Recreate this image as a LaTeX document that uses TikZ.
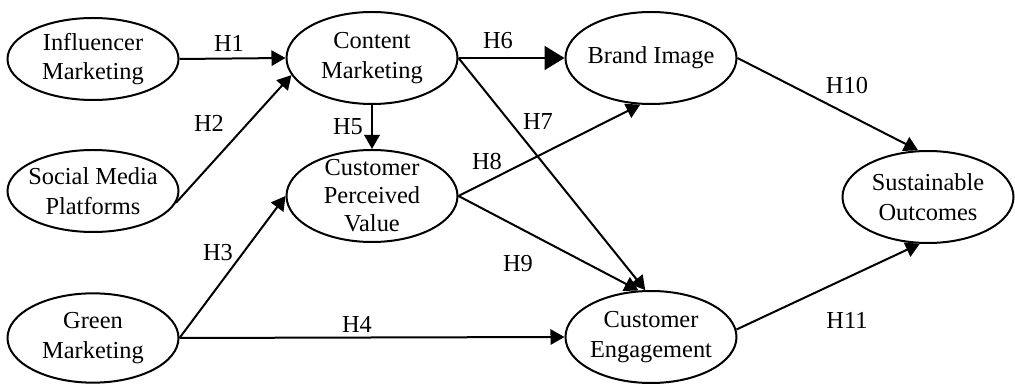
\documentclass[tikz,border=0pt]{standalone}
\usepackage{fontspec}
\setmainfont{Liberation Serif}
\usetikzlibrary{shapes.geometric,arrows.meta}
\begin{document}
\begin{tikzpicture}[x=0.75pt,y=-0.75pt,
  font=\fontsize{18.3pt}{22pt}\selectfont,
  construct/.style={draw, ellipse, line width=1.5pt, inner sep=0pt,
    minimum width=128.25pt, minimum height=69pt},
  short/.style={minimum height=61.5pt},
  mid/.style={minimum height=67pt},
  caption/.style={align=center},
  hyp/.style={inner sep=0pt},
  link/.style={line width=1.5pt, -{Triangle[length=10.5pt,width=11.5pt]}},
  biglink/.style={line width=1.5pt, -{Triangle[length=15pt,width=18pt]}}
]
\useasboundingbox (0,0) rectangle (1015,384);

% constructs
\node[construct, short, label={[caption]center:Influencer\\Marketing}] (inf) at (93,59) {};
\node[construct, short, label={[caption]center:Social Media\\Platforms}] (soc) at (93,191) {};
\node[construct, mid, label={[caption]center:Green\\Marketing}] (grn) at (93,338) {};
\node[construct, label={[caption]center:Content\\Marketing}] (cm) at (372,58) {};
\node[construct, label={[caption, font=\fontsize{18.3pt}{21pt}\selectfont]center:Customer\\Perceived\\Value}] (cpv) at (372,196) {};
\node[construct, label={[caption]center:Brand Image}] (bi) at (651,58) {};
\node[construct, label={[caption]center:Customer\\Engagement}] (ce) at (651,337) {};
\node[construct, label={[caption]center:Sustainable\\Outcomes}] (sus) at (928,197) {};

% hypothesised paths
\draw[link] (inf.east) -- (cm.west);
\draw[link] (soc.-8) -- (cm.192);
\draw[link] (grn.east) -- (cpv.west);
\draw[link] (grn.east) -- (ce.west);
\draw[link] (cm.south) -- (cpv.north);
\draw[biglink] (cm.east) -- (bi.west);
\draw[link] (cm.east) -- (ce.97);
\draw[link] (cpv.east) -- (bi.257);
\draw[link] (cpv.east) -- (ce.105);
\draw[link] (bi.east) -- (sus.102);
\draw[link] (ce.5) -- (sus.260);

% path labels
\node[hyp] (h1) at (229,43) {H1};
\node[hyp] (h2) at (209,123) {H2};
\node[hyp] (h3) at (218,253) {H3};
\node[hyp] (h4) at (357,324) {H4};
\node[hyp] (h5) at (348,127) {H5};
\node[hyp] (h6) at (498,41) {H6};
\node[hyp] (h7) at (538,122) {H7};
\node[hyp] (h8) at (487,162) {H8};
\node[hyp] (h9) at (518,264) {H9};
\node[hyp] (h10) at (847,86) {H10};
\node[hyp] (h11) at (847,320) {H11};
\end{tikzpicture}
\end{document}
